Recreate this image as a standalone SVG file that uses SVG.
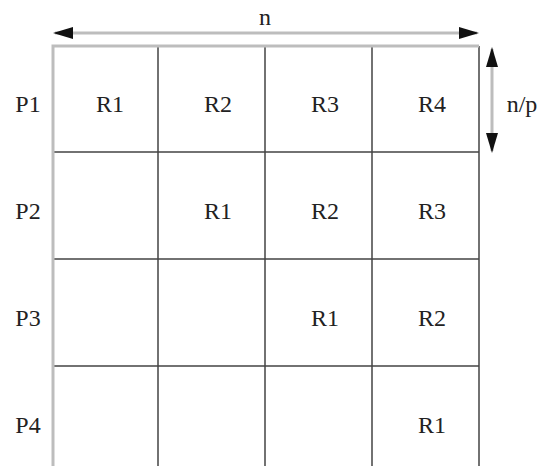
<svg xmlns="http://www.w3.org/2000/svg" width="546" height="466" viewBox="0 0 546 466">
<style>
text{font-family:"Liberation Serif","DejaVu Serif",serif;font-size:24px;fill:#222;text-anchor:middle}
.g{stroke:#444;stroke-width:1.5;fill:none}
.e{stroke:#bdbdbd;stroke-width:3;fill:none}
.a{stroke:#bdbdbd;stroke-width:3}
</style>
<defs>
<marker id="ah" viewBox="0 0 20 12" refX="18" refY="6" markerWidth="20" markerHeight="12" markerUnits="userSpaceOnUse" orient="auto-start-reverse">
<path d="M0,0 L20,6 L0,12 Z" fill="#111"/>
</marker>
</defs>
<g id="grid">
<path class="g" d="M158,46V466M265,46V466M372,46V466M479,46V466M53,152H479M53,259H479M53,366H479"/>
<path class="e" d="M53,466V46H479"/>
</g>
<g id="connectors">
<line class="a" x1="55" y1="33" x2="477" y2="33" marker-start="url(#ah)" marker-end="url(#ah)"/>
<line class="a" x1="492" y1="49" x2="492" y2="151" marker-start="url(#ah)" marker-end="url(#ah)"/>
</g>
<g id="labels">
<text x="265" y="25">n</text>
<text x="522" y="112">n/p</text>
<text x="28" y="112">P1</text>
<text x="28" y="219">P2</text>
<text x="28" y="326">P3</text>
<text x="28" y="433">P4</text>
</g>
<g id="row1">
<text x="110" y="112">R1</text>
<text x="218" y="112">R2</text>
<text x="325" y="112">R3</text>
<text x="432" y="112">R4</text>
</g>
<g id="row2">
<text x="218" y="219">R1</text>
<text x="325" y="219">R2</text>
<text x="432" y="219">R3</text>
</g>
<g id="row3">
<text x="325" y="326">R1</text>
<text x="432" y="326">R2</text>
</g>
<g id="row4">
<text x="432" y="433">R1</text>
</g>
</svg>
